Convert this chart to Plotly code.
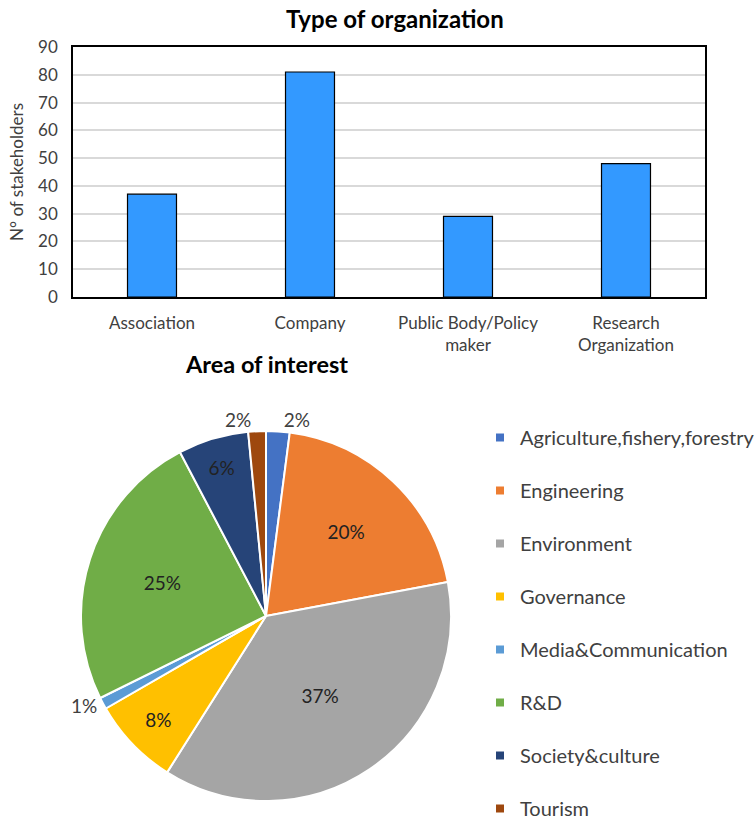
import plotly.graph_objects as go

# Bar chart data
org_types = ["Association", "Company", "Public Body/Policy<br>maker", "Research<br>Organization"]
org_counts = [37, 81, 29, 48]

# Pie chart data (counts of stakeholders per area of interest)
areas = ["Agriculture,fishery,forestry", "Engineering", "Environment", "Governance",
         "Media&Communication", "R&D", "Society&culture", "Tourism"]
area_counts = [4, 39, 72, 15, 2, 48, 12, 3]
area_colors = ["#4472C4", "#ED7D31", "#A5A5A5", "#FFC000",
               "#5B9BD5", "#70AD47", "#264478", "#9E480E"]
text_pos = ["outside", "inside", "inside", "inside", "outside", "inside", "inside", "outside"]

W, H = 756, 825
FONT = "Lato"

fig = go.Figure()

fig.add_trace(go.Bar(
    x=org_types, y=org_counts, width=0.31,
    marker=dict(color="#3399FF", line=dict(color="black", width=1.2)),
    showlegend=False, hoverinfo="x+y",
))

fig.add_trace(go.Pie(
    labels=areas, values=area_counts, sort=False, direction="clockwise", rotation=0,
    marker=dict(colors=area_colors, line=dict(color="white", width=2)),
    texttemplate="%{percent:.0%}", textposition=text_pos,
    insidetextorientation="horizontal",
    textfont=dict(family=FONT, size=19, color="#222222"),
    outsidetextfont=dict(family=FONT, size=19, color="#404040"),
    domain=dict(x=[81 / W, 451 / W], y=[1 - 801 / H, 1 - 431 / H]),
    showlegend=False,
))

# legend entries (one per area) to control spacing
for name, col in zip(areas, area_colors):
    fig.add_trace(go.Scatter(
        x=[None], y=[None], mode="markers", name=name, legendgroup=name,
        marker=dict(symbol="square", size=8, color=col),
    ))

fig.update_layout(
    width=W, height=H,
    margin=dict(l=0, r=0, t=0, b=0, autoexpand=False),
    paper_bgcolor="white", plot_bgcolor="white",
    font=dict(family=FONT, color="#595959"),
    xaxis=dict(domain=[73 / W, 705 / W], showline=True, mirror=True, linecolor="black",
               linewidth=1.5, ticks="", tickfont=dict(size=17, color="#404040"),
               ticklabelstandoff=10, showgrid=False, fixedrange=True),
    yaxis=dict(domain=[1 - 297 / H, 1 - 47 / H], range=[0, 90], dtick=10,
               showline=True, mirror=True, linecolor="black", linewidth=1.5,
               gridcolor="#D9D9D9", gridwidth=1.5, ticks="",
               tickfont=dict(size=17, color="#404040"), ticklabelstandoff=10,
               title=dict(text="N° of stakeholders", font=dict(size=17, color="#404040"), standoff=10),
               zeroline=False),
    legend=dict(x=480 / W, xanchor="left", y=1 - 418 / H, yanchor="top",
                font=dict(size=20, color="#404040"), tracegroupgap=24,
                itemwidth=30, bgcolor="rgba(0,0,0,0)"),
    annotations=[
        dict(text="<b>Type of organization</b>", x=395 / W, y=1 - 18 / H, xref="paper", yref="paper",
             showarrow=False, font=dict(size=24, color="#000000"), xanchor="center", yanchor="middle"),
        dict(text="<b>Area of interest</b>", x=266 / W, y=1 - 364 / H, xref="paper", yref="paper",
             showarrow=False, font=dict(size=23.5, color="#000000"), xanchor="center", yanchor="middle"),
    ],
)

fig.write_html("out.html")
